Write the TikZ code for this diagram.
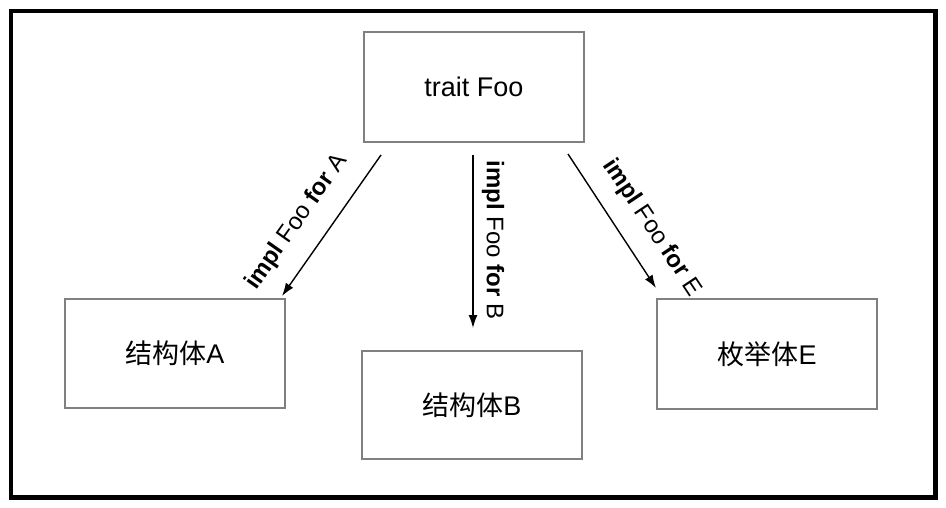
\documentclass[tikz,border=0pt]{standalone}
\usepackage{fontspec}
\setmainfont{Liberation Sans}
\newfontfamily\cjk{Noto Sans CJK SC}
\usetikzlibrary{arrows.meta}
\begin{document}
\begin{tikzpicture}[x=1pt,y=-1pt,
  box/.style={draw=black!50, line width=2pt, fill=white, rectangle, inner sep=0pt,
    minimum width=220pt, minimum height=110pt, font=\fontsize{27}{30}\selectfont},
  lbl/.style={inner sep=0pt, font=\fontsize{24}{28}\selectfont},
  arr/.style={line width=1.4pt, -{Latex[length=13pt,width=9pt]}},
  frame/.style={line width=4.5pt, draw=black}]
\useasboundingbox (0,0) rectangle (946,508);
% arrow end points
\coordinate (sA) at (381,155);
\coordinate (tA) at (282,296);
\coordinate (sB) at (473,155);
\coordinate (tB) at (473,328);
\coordinate (sE) at (568,154);
\coordinate (tE) at (656,288);
\draw[arr] (sA) -- (tA);
\draw[arr] (sB) -- (tB);
\draw[arr] (sE) -- (tE);
% labels
\node[lbl, rotate=54.9] (lA) at (297,222) {\textbf{impl} Foo \textbf{for} A};
\node[lbl, rotate=-90] (lB) at (493,240) {\textbf{impl} Foo \textbf{for} B};
\node[lbl, rotate=-56.4] (lE) at (652,228) {\textbf{impl} Foo \textbf{for} E};
% boxes
\node[box] (foo) at (474,87) {trait Foo};
\node[box, minimum height=109pt] (a) at (175,353.5) {{\cjk 结构体}A};
\node[box, minimum height=108pt] (b) at (472,405) {{\cjk 结构体}B};
\node[box] (e) at (767,354) {{\cjk 枚举体}E};
% outer frame
\draw[frame] (11,11) rectangle (935.5,497.5);
\end{tikzpicture}
\end{document}
